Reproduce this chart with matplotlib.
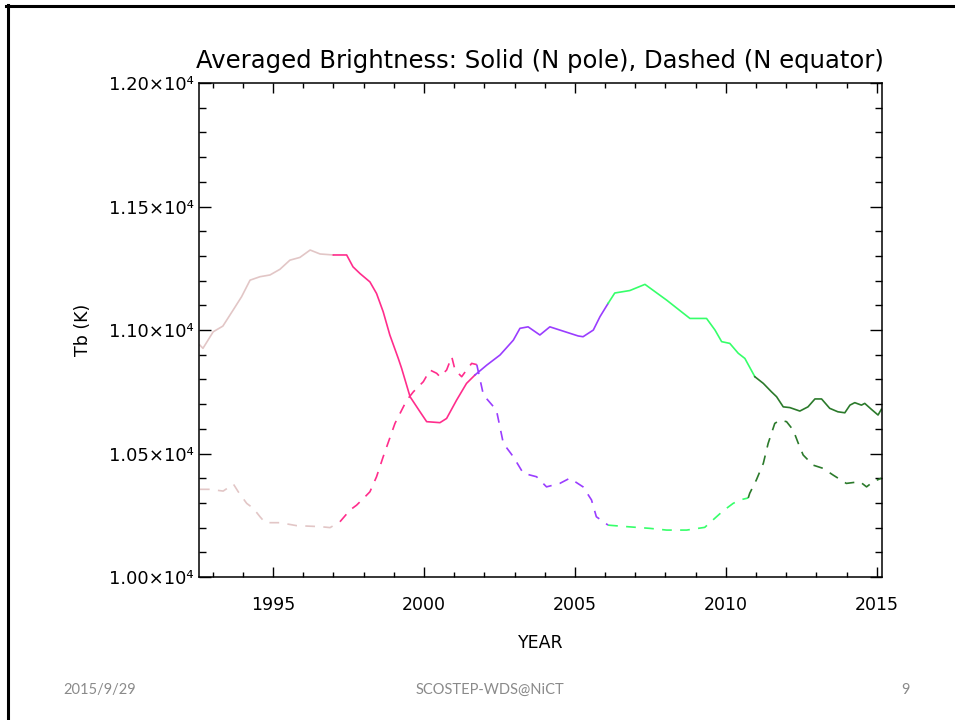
import matplotlib
matplotlib.use("Agg")
import matplotlib.pyplot as plt
import numpy as np
from matplotlib.lines import Line2D
from matplotlib.ticker import FuncFormatter, MultipleLocator

# averaged brightness, N pole (solid)
pole_year = [
    1992.58, 1992.68, 1993.02, 1993.34, 1993.68, 1993.96, 1994.24, 1994.57,
    1994.90, 1995.23, 1995.56, 1995.89, 1996.23, 1996.56, 1997.00, 1997.44,
    1997.65, 1997.88, 1998.21, 1998.43, 1998.65, 1998.87, 1999.15, 1999.26,
    1999.54, 1999.87, 2000.09, 2000.53, 2000.75, 2001.08, 2001.41, 2001.69,
    2002.08, 2002.52, 2002.96, 2003.18, 2003.45, 2003.84, 2004.17, 2004.50,
    2005.11, 2005.27, 2005.61, 2005.83, 2006.10, 2006.32, 2006.82, 2007.32,
    2008.04, 2008.58, 2008.81, 2009.36, 2009.64, 2009.86, 2010.13, 2010.41,
    2010.63, 2010.96, 2011.24, 2011.51, 2011.68, 2011.90, 2012.12, 2012.45,
    2012.72, 2012.95, 2013.17, 2013.44, 2013.71, 2013.94, 2014.11, 2014.27,
    2014.49, 2014.60, 2014.82, 2015.04, 2015.15,
]
pole_tb = [
    10939, 10926, 10993, 11016, 11081, 11135, 11202, 11216,
    11223, 11246, 11283, 11294, 11324, 11308, 11304, 11304,
    11256, 11229, 11195, 11148, 11074, 10980, 10885, 10845,
    10730, 10669, 10629, 10625, 10642, 10716, 10784, 10818,
    10858, 10899, 10959, 11007, 11013, 10980, 11013, 11000,
    10976, 10973, 11000, 11054, 11108, 11150, 11160, 11185,
    11121, 11069, 11047, 11047, 11000, 10953, 10946, 10906,
    10885, 10811, 10784, 10750, 10730, 10689, 10686, 10672,
    10689, 10721, 10721, 10683, 10669, 10665, 10696, 10706,
    10696, 10703, 10679, 10656, 10679,
]

# averaged brightness, N equator (dashed)
equator_year = [
    1992.58, 1992.91, 1993.35, 1993.69, 1993.85, 1994.13, 1994.35, 1994.57,
    1994.74, 1995.23, 1995.78, 1996.56, 1996.89, 1997.22, 1997.55, 1997.77,
    1998.05, 1998.21, 1998.43, 1998.65, 1999.04, 1999.43, 1999.65, 1999.98,
    2000.20, 2000.42, 2000.53, 2000.75, 2000.92, 2001.03, 2001.25, 2001.41,
    2001.58, 2001.75, 2001.97, 2002.40, 2002.63, 2002.96, 2003.29, 2003.73,
    2004.06, 2004.50, 2004.83, 2005.27, 2005.55, 2005.71, 2005.93, 2006.10,
    2006.71, 2007.48, 2008.04, 2008.70, 2009.30, 2009.69, 2009.91, 2010.24,
    2010.46, 2010.74, 2010.79, 2011.01, 2011.24, 2011.40, 2011.62, 2011.79,
    2012.01, 2012.23, 2012.40, 2012.56, 2012.89, 2013.22, 2013.55, 2013.99,
    2014.44, 2014.66, 2014.88, 2015.15,
]
equator_tb = [
    10355, 10355, 10348, 10376, 10345, 10298, 10278, 10244,
    10220, 10220, 10208, 10204, 10200, 10224, 10271, 10291,
    10325, 10345, 10406, 10487, 10622, 10716, 10750, 10791,
    10838, 10825, 10811, 10838, 10892, 10838, 10811, 10838,
    10865, 10860, 10737, 10676, 10541, 10487, 10420, 10406,
    10365, 10379, 10400, 10365, 10312, 10244, 10225, 10210,
    10204, 10197, 10190, 10190, 10201, 10244, 10268, 10298,
    10312, 10320, 10339, 10393, 10460, 10541, 10622, 10635,
    10629, 10595, 10541, 10494, 10453, 10440, 10413, 10379,
    10386, 10365, 10386, 10400,
]

# colour changes along the time axis
phase_edges = [1992.5, 1997.0, 2001.6, 2006.1, 2010.66, 2015.2]
phase_colors = ["#e2c6c6", "#ff2d8c", "#9a3dff", "#36ff6a", "#2b7a2b"]

plt.rcParams["lines.scale_dashes"] = False
fig = plt.figure(figsize=(9.55, 7.2), dpi=100)
ax = fig.add_axes([0.2084, 0.1986, 0.7148, 0.686])


def draw_segments(years, values, dashed):
    years = np.asarray(years)
    values = np.asarray(values)
    for i, color in enumerate(phase_colors):
        lo, hi = phase_edges[i], phase_edges[i + 1]
        idx = np.where((years >= lo) & (years < hi))[0]
        if len(idx) == 0:
            continue
        # connect to the first point of the next phase
        if idx[-1] + 1 < len(years):
            idx = np.append(idx, idx[-1] + 1)
        (ln,) = ax.plot(years[idx], values[idx], color=color, lw=1.2)
        if dashed:
            ln.set_dashes((7.0, 6.0))


draw_segments(pole_year, pole_tb, dashed=False)
draw_segments(equator_year, equator_tb, dashed=True)

ax.set_xlim(1992.55, 2015.16)
ax.set_ylim(10000, 12000)
ax.xaxis.set_major_locator(MultipleLocator(5))
ax.xaxis.set_minor_locator(MultipleLocator(1))
ax.yaxis.set_major_locator(MultipleLocator(500))
ax.yaxis.set_minor_locator(MultipleLocator(100))
ax.yaxis.set_major_formatter(FuncFormatter(lambda v, p: f"{v / 1e4:.2f}×10\u2074"))

for s in ax.spines.values():
    s.set_linewidth(1.1)
ax.tick_params(axis="both", which="both", direction="in", top=True, right=True,
               width=1.0, colors="black")
ax.tick_params(axis="x", which="major", length=7.2, pad=14, labelsize=12.5)
ax.tick_params(axis="x", which="minor", length=3.6)
ax.tick_params(axis="y", which="major", length=8.6, pad=4, labelsize=13)
ax.tick_params(axis="y", which="minor", length=5)

ax.set_title("Averaged Brightness: Solid (N pole), Dashed (N equator)",
             fontsize=17.5, pad=11)
ax.set_xlabel("YEAR", fontsize=12.5, labelpad=14)
ax.set_ylabel("Tb (K)", fontsize=12.5, labelpad=12)

# slide frame and footer
fig.add_artist(Line2D([7.5 / 955, 7.5 / 955], [0, 1 - 5 / 720],
                      transform=fig.transFigure, color="black", lw=2.2))
fig.add_artist(Line2D([6 / 955, 1], [1 - 5.5 / 720, 1 - 5.5 / 720],
                      transform=fig.transFigure, color="black", lw=2.2))
foot = dict(fontsize=10.5, color="#8a8a8a", family="Lato", va="center")
fig.text(63 / 955, 1 - 690 / 720, "2015/9/29", ha="left", **foot)
fig.text(490 / 955, 1 - 690 / 720, "SCOSTEP-WDS@NiCT", ha="center", **foot)
fig.text(905 / 955, 1 - 690 / 720, "9", ha="center", **foot)

fig.savefig("out.png", dpi=100)
